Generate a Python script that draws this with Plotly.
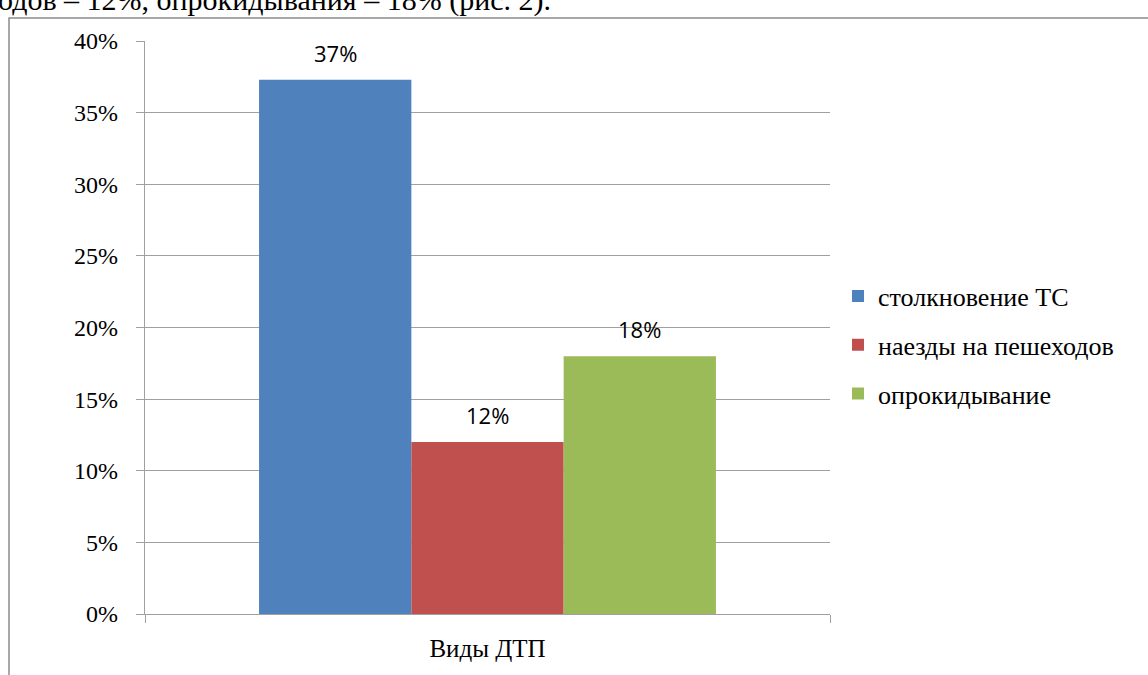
import plotly.graph_objects as go

category = ["Виды ДТП"]
series_names = ["столкновение ТС", "наезды на пешеходов", "опрокидывание"]
series_values = [0.373, 0.12, 0.18]
series_labels = ["37%", "12%", "18%"]
series_colors = ["#4F81BD", "#C0504D", "#9BBB59"]
y_tick_vals = [0, 0.05, 0.10, 0.15, 0.20, 0.25, 0.30, 0.35, 0.40]
y_tick_text = ["0%", "5%", "10%", "15%", "20%", "25%", "30%", "35%", "40%"]
caption = "одов – 12%, опрокидывания – 18% (рис. 2)."

W, H = 1148, 675
L, R, T, B = 145, 318, 41, 61
pw, ph = W - L - R, H - T - B
BARGAP = 0.333
SERIF = "Liberation Serif"

fig = go.Figure()
for i, (name, val, col) in enumerate(zip(series_names, series_values, series_colors)):
    fig.add_trace(go.Bar(
        x=category, y=[val], name=name, legendgroup=f"g{i}",
        marker=dict(color=col, line=dict(width=0)),
    ))

# data labels above each bar
n = len(series_values)
bar_px = pw * (1 - BARGAP) / n
for i, (val, lab) in enumerate(zip(series_values, series_labels)):
    fig.add_annotation(
        x=category[0], y=val, xref="x", yref="y", text=lab, showarrow=False,
        xanchor="center", yanchor="bottom", xshift=(i - (n - 1) / 2) * bar_px, yshift=10,
        font=dict(family="Open Sans", size=22, color="#000"),
    )

fig.update_layout(
    width=W, height=H,
    margin=dict(l=L, r=R, t=T, b=B, autoexpand=False),
    paper_bgcolor="white", plot_bgcolor="white",
    barmode="group", bargap=BARGAP, bargroupgap=0,
    font=dict(family=SERIF, size=24, color="#000"),
    legend=dict(x=(838 - L) / pw, y=(614 - 345) / ph, xanchor="left", yanchor="middle",
                font=dict(family=SERIF, size=26, color="#000"),
                itemwidth=30, tracegroupgap=12, bgcolor="rgba(0,0,0,0)"),
    showlegend=True,
)
fig.update_yaxes(
    range=[0, 0.40], tickvals=y_tick_vals, ticktext=y_tick_text,
    showgrid=True, gridcolor="#A0A0A0", gridwidth=1.3,
    showline=True, linecolor="#A0A0A0", linewidth=1.3,
    ticks="outside", ticklen=8, tickcolor="#A0A0A0", tickwidth=1.3,
    ticklabelstandoff=13, zeroline=False,
    tickfont=dict(family=SERIF, size=24, color="#000"),
)
fig.update_xaxes(
    showline=True, linecolor="#A0A0A0", linewidth=1.3,
    ticks="outside", tickson="boundaries", ticklen=8, tickcolor="#A0A0A0", tickwidth=1.3,
    tickfont=dict(family=SERIF, size=25, color="#000"),
    ticklabelstandoff=12,
)

# outer chart border
fig.add_shape(type="rect", xref="paper", yref="paper",
              x0=(9 - L) / pw, x1=(W + 20 - L) / pw,
              y0=-(B + 20) / ph, y1=1 + (T - 18) / ph,
              line=dict(color="#8C8C8C", width=1.5), fillcolor="rgba(0,0,0,0)", layer="below")

# cropped document text at top
fig.add_annotation(text=caption, xref="paper", yref="paper",
                   x=(-4 - L) / pw, y=1 + (T - 19) / ph, xanchor="left", yanchor="bottom",
                   showarrow=False,
                   font=dict(family=SERIF, size=30, color="#000"))

fig.write_html("out.html")
